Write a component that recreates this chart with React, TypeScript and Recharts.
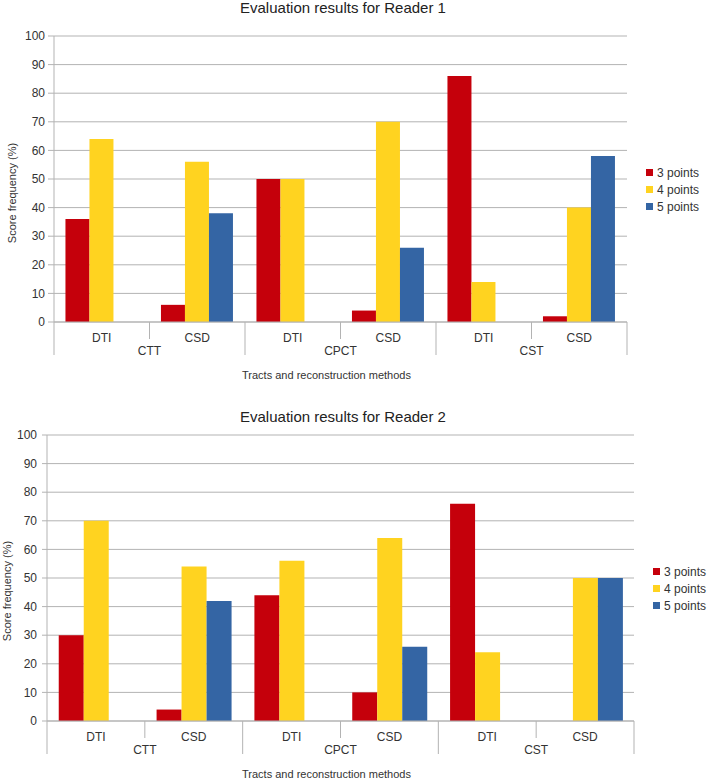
import React from "react";
import { BarChart, Bar, XAxis, YAxis, CartesianGrid, Legend } from "recharts";

const tracts = ["CTT", "CPCT", "CST"];
const methods = ["DTI", "CSD"];
const seriesNames = ["3 points", "4 points", "5 points"];
const seriesColors = ["#c5000b", "#ffd320", "#3465a4"];
const yTicks = [0, 10, 20, 30, 40, 50, 60, 70, 80, 90, 100];

// order: CTT-DTI, CTT-CSD, CPCT-DTI, CPCT-CSD, CST-DTI, CST-CSD
const reader1Three = [36, 6, 50, 4, 86, 2];
const reader1Four = [64, 56, 50, 70, 14, 40];
const reader1Five = [0, 38, 0, 26, 0, 58];

const reader2Three = [30, 4, 44, 10, 76, 0];
const reader2Four = [70, 54, 56, 64, 24, 50];
const reader2Five = [0, 42, 0, 26, 0, 50];

const GRID = "#b3b3b3";
const TEXT = "#333";
const FONT = "'Liberation Sans', Arial, sans-serif";
const W = 708;
const H = 390;

function buildRows(three: number[], four: number[], five: number[]) {
  const rows: any[] = [];
  tracts.forEach((tract, t) => {
    methods.forEach((method, m) => {
      const i = t * methods.length + m;
      rows.push({
        key: `${tract}-${method}`,
        tract,
        method,
        [seriesNames[0]]: three[i],
        [seriesNames[1]]: four[i],
        [seriesNames[2]]: five[i],
      });
    });
  });
  return rows;
}

interface ChartProps {
  title: string;
  rows: any[];
  left: number;
  right: number;
  top: number;
  titleTop: number;
  tickSize: number;
  tickMargin: number;
  legendLeft: number;
  legendTop: number;
  yLabelX: number;
  yLabelY: number;
}

const LegendBox = () => (
  <div style={{ fontFamily: FONT, fontSize: 12, color: TEXT }}>
    {seriesNames.map((name, i) => (
      <div key={name} style={{ display: "flex", alignItems: "center", height: 17 }}>
        <span style={{ width: 7, height: 7, background: seriesColors[i], display: "inline-block", marginRight: 4 }} />
        {name}
      </div>
    ))}
  </div>
);

const ReaderChart: React.FC<ChartProps> = (p) => {
  const plotWidth = W - p.left - p.right;
  const half = plotWidth / p.rows.length / 2;
  const n = p.rows.length;

  const CategoryTick = (props: any) => {
    const { x, y, index } = props;
    const row = p.rows[index];
    const groupStart = index % methods.length === 0;
    return (
      <g>
        <line x1={x - half} x2={x - half} y1={y} y2={y + (groupStart ? 33 : 17)} stroke={GRID} />
        {index === n - 1 && <line x1={x + half} x2={x + half} y1={y} y2={y + 33} stroke={GRID} />}
        <text x={x} y={y + 20} textAnchor="middle" fontSize={12} fill={TEXT} fontFamily={FONT}>
          {row.method}
        </text>
        {groupStart && (
          <text x={x + half} y={y + 33} textAnchor="middle" fontSize={12} fill={TEXT} fontFamily={FONT}>
            {row.tract}
          </text>
        )}
      </g>
    );
  };

  return (
    <div style={{ position: "relative", width: W, height: H }}>
      <div
        style={{
          position: "absolute",
          top: p.titleTop,
          left: 0,
          width: 686,
          textAlign: "center",
          fontFamily: FONT,
          fontSize: 15,
          lineHeight: "15px",
          color: "#222",
        }}
      >
        {p.title}
      </div>
      <BarChart
        width={W}
        height={H}
        data={p.rows}
        margin={{ top: p.top, right: p.right, left: 0, bottom: 0 }}
        barCategoryGap="12%"
        barGap={0}
      >
        <CartesianGrid vertical={false} stroke={GRID} />
        <XAxis
          dataKey="key"
          height={H - p.top - 286}
          tickSize={0}
          tickMargin={0}
          axisLine={{ stroke: GRID }}
          tickLine={false}
          tick={<CategoryTick />}
          interval={0}
          label={{
            content: (lp: any) => {
              const vb = lp.viewBox;
              return (
                <text x={vb.x + vb.width / 2 - 14} y={vb.y + 57} textAnchor="middle" fontSize={11} fill={TEXT} fontFamily={FONT}>
                  Tracts and reconstruction methods
                </text>
              );
            },
          }}
        />
        <YAxis
          width={p.left}
          domain={[0, 100]}
          ticks={yTicks}
          interval={0}
          tickSize={p.tickSize}
          tickMargin={p.tickMargin}
          axisLine={{ stroke: GRID }}
          tickLine={{ stroke: GRID }}
          tick={{ fill: TEXT, fontSize: 12, fontFamily: FONT }}
          label={{
            content: () => (
              <text
                x={p.yLabelX}
                y={p.yLabelY}
                transform={`rotate(-90 ${p.yLabelX} ${p.yLabelY})`}
                textAnchor="middle"
                dominantBaseline="central"
                fontSize={11}
                fill={TEXT}
                fontFamily={FONT}
              >
                Score frequency (%)
              </text>
            ),
          }}
        />
        <YAxis
          yAxisId="border"
          orientation="right"
          width={0}
          domain={[0, 100]}
          tick={false}
          tickLine={false}
          axisLine={{ stroke: GRID }}
        />
        <Legend
          layout="vertical"
          align="center"
          verticalAlign="middle"
          content={<LegendBox />}
          wrapperStyle={{ left: p.legendLeft, top: p.legendTop, width: 70 }}
        />
        {seriesNames.map((name, i) => (
          <Bar key={name} dataKey={name} fill={seriesColors[i]} isAnimationActive={false} />
        ))}
      </BarChart>
    </div>
  );
};

export default function App() {
  const rows1 = buildRows(reader1Three, reader1Four, reader1Five);
  const rows2 = buildRows(reader2Three, reader2Four, reader2Five);
  return (
    <div style={{ position: "absolute", left: 0, top: 0, width: W, height: 780, background: "#fff" }}>
      <ReaderChart
        title="Evaluation results for Reader 1"
        rows={rows1}
        left={54}
        right={81}
        top={36}
        titleTop={0}
        tickSize={6}
        tickMargin={3}
        legendLeft={646}
        legendTop={164}
        yLabelX={12}
        yLabelY={193}
      />
      <ReaderChart
        title="Evaluation results for Reader 2"
        rows={rows2}
        left={47}
        right={74}
        top={45}
        titleTop={19}
        tickSize={5}
        tickMargin={5}
        legendLeft={653}
        legendTop={173}
        yLabelX={7}
        yLabelY={201}
      />
    </div>
  );
}
